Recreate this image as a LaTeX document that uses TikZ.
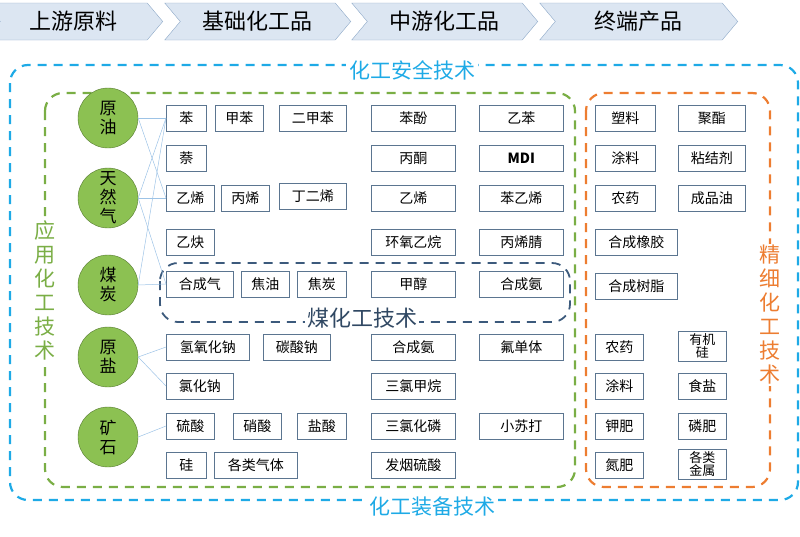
\documentclass[tikz,border=0pt]{standalone}
\usepackage{fontspec}
\setmainfont{Noto Sans CJK SC}
\usetikzlibrary{shapes.symbols}
\definecolor{hdr}{HTML}{DCE6F2}
\definecolor{hdrb}{HTML}{8EA9C8}
\definecolor{cblue}{HTML}{1EAAE6}
\definecolor{cgreen}{HTML}{7AAE45}
\definecolor{corange}{HTML}{ED7D31}
\definecolor{cnavy}{HTML}{3C5A7C}
\definecolor{circ}{HTML}{8CC152}
\definecolor{bx}{HTML}{5B7590}
\definecolor{ln}{HTML}{9DC3E6}
\begin{document}
\begin{tikzpicture}[x=1pt,y=-1pt,
 hd/.style={signal,signal to=east,signal from=west,signal pointer angle=100,draw=hdrb,fill=hdr,minimum height=37,inner sep=0,font=\fontsize{22}{22}\selectfont,anchor=west},
 b/.style={draw=bx,line width=0.6pt,minimum height=26,inner sep=0,font=\fontsize{14}{14}\selectfont,anchor=west},
 c/.style={circle,draw=cgreen!70!black,fill=circ,minimum size=60,inner sep=0,align=center,font=\fontsize{17}{19}\selectfont},
 dsh/.style={dashed,line width=2.2pt,dash pattern=on 9pt off 7pt,rounded corners=18},
 l/.style={draw=ln,line width=0.5pt}]
\useasboundingbox (0,0) rectangle (800,536);
\node[hd,minimum width=178] (h1) at (0,21.5) {上游原料};
\node[hd,minimum width=186] (h2) at (180,21.5) {基础化工品};
\node[hd,minimum width=186] (h3) at (367,21.5) {中游化工品};
\node[hd,minimum width=198] (h4) at (555,21.5) {终端产品};
% dashed frames
\draw[dsh,cblue] (10,65) rectangle (798,500);
\draw[dsh,cgreen] (45,93) rectangle (575,487);
\draw[dsh,corange] (586,93) rectangle (770,487);
\draw[dsh,cnavy,line width=1.8pt] (160,263) rectangle (570,322);
\node[fill=white,text=cblue,font=\fontsize{21}{21}\selectfont,inner sep=3] (t1) at (412,70) {化工安全技术};
\node[fill=white,text=cblue,font=\fontsize{21}{21}\selectfont,inner sep=3] (t2) at (432,507) {化工装备技术};
\node[fill=white,text=cgreen,font=\fontsize{21}{24}\selectfont,align=center,inner sep=1] (t3) at (45,290) {应\\用\\化\\工\\技\\术};
\node[fill=white,text=corange,font=\fontsize{21}{24}\selectfont,align=center,inner sep=1] (t4) at (770,315) {精\\细\\化\\工\\技\\术};
\node[fill=white,text=cnavy!80!black,font=\fontsize{22}{22}\selectfont,inner sep=2] (t5) at (362,318) {煤化工技术};
% circles
\node[c] (o) at (108,118) {原\\油};
\node[c] (g) at (108,198) {天\\然\\气};
\node[c] (m) at (108,285) {煤\\炭};
\node[c] (s) at (108,357) {原\\盐};
\node[c] (k) at (108,437) {矿\\石};
% column 1
\node[b,minimum width=40] (b1) at (166,118) {苯};
\node[b,minimum width=48] (b2) at (215,118) {甲苯};
\node[b,minimum width=67] (b3) at (279,118) {二甲苯};
\node[b,minimum width=40] (b4) at (166,158) {萘};
\node[b,minimum width=48] (b5) at (166,198) {乙烯};
\node[b,minimum width=48] (b6) at (221,198) {丙烯};
\node[b,minimum width=67] (b7) at (279,196) {丁二烯};
\node[b,minimum width=48] (b8) at (166,242) {乙炔};
\node[b,minimum width=67] (b9) at (166,284) {合成气};
\node[b,minimum width=48] (b10) at (241,284) {焦油};
\node[b,minimum width=49] (b11) at (297,284) {焦炭};
\node[b,minimum width=83] (b12) at (166,347) {氢氧化钠};
\node[b,minimum width=67] (b13) at (263,347) {碳酸钠};
\node[b,minimum width=67] (b14) at (166,386) {氯化钠};
\node[b,minimum width=48] (b15) at (166,426) {硫酸};
\node[b,minimum width=48] (b16) at (233,426) {硝酸};
\node[b,minimum width=49] (b17) at (297,426) {盐酸};
\node[b,minimum width=40] (b18) at (166,465) {硅};
\node[b,minimum width=83] (b19) at (214,465) {各类气体};
% column 2
\foreach \n/\y/\t in {p1/118/苯酚,p2/158/丙酮,p3/198/乙烯,p4/242/环氧乙烷,p5/284/甲醇,p6/347/合成氨,p7/386/三氯甲烷,p8/426/三氯化磷,p9/465/发烟硫酸}
  \node[b,minimum width=84] (\n) at (371,\y) {\t};
\node[b,minimum width=84] (q1) at (479,118) {乙苯};
\node[b,minimum width=84,font=\fontsize{14}{14}\selectfont\bfseries] (q2) at (479,158) {MDI};
\node[b,minimum width=84] (q3) at (479,198) {苯乙烯};
\node[b,minimum width=84] (q4) at (479,242) {丙烯腈};
\node[b,minimum width=84] (q5) at (479,284) {合成氨};
\node[b,minimum width=84] (q6) at (479,347) {氟单体};
\node[b,minimum width=84] (q8) at (479,426) {小苏打};
% column 3
\node[b,minimum width=60] (r1) at (595,118) {塑料};
\node[b,minimum width=67] (r2) at (678,118) {聚酯};
\node[b,minimum width=60] (r3) at (595,158) {涂料};
\node[b,minimum width=67] (r4) at (678,158) {粘结剂};
\node[b,minimum width=60] (r5) at (595,198) {农药};
\node[b,minimum width=67] (r6) at (678,198) {成品油};
\node[b,minimum width=82] (r7) at (595,242) {合成橡胶};
\node[b,minimum width=82] (r8) at (595,286) {合成树脂};
\node[b,minimum width=48] (r9) at (595,347) {农药};
\node[b,minimum width=48,minimum height=30,align=center,font=\fontsize{13}{13}\selectfont] (r10) at (678,346) {有机\\硅};
\node[b,minimum width=48] (r11) at (595,386) {涂料};
\node[b,minimum width=48] (r12) at (678,386) {食盐};
\node[b,minimum width=48] (r13) at (595,426) {钾肥};
\node[b,minimum width=48] (r14) at (678,426) {磷肥};
\node[b,minimum width=48] (r15) at (595,465) {氮肥};
\node[b,minimum width=48,minimum height=30,align=center,font=\fontsize{13}{13}\selectfont] (r16) at (678,464) {各类\\金属};
% connectors
\draw[l] (o.east) -- (b1.west);
\draw[l] (o.east) -- (b5.west);
\draw[l] (g.east) -- (b1.west);
\draw[l] (g.east) -- (b5.west);
\draw[l] (g.east) -- (b9.west);
\draw[l] (m.east) -- (b1.west);
\draw[l] (m.east) -- (b9.west);
\draw[l] (s.east) -- (b12.west);
\draw[l] (s.east) -- (b14.west);
\draw[l] (k.east) -- (b15.west);
\end{tikzpicture}
\end{document}
